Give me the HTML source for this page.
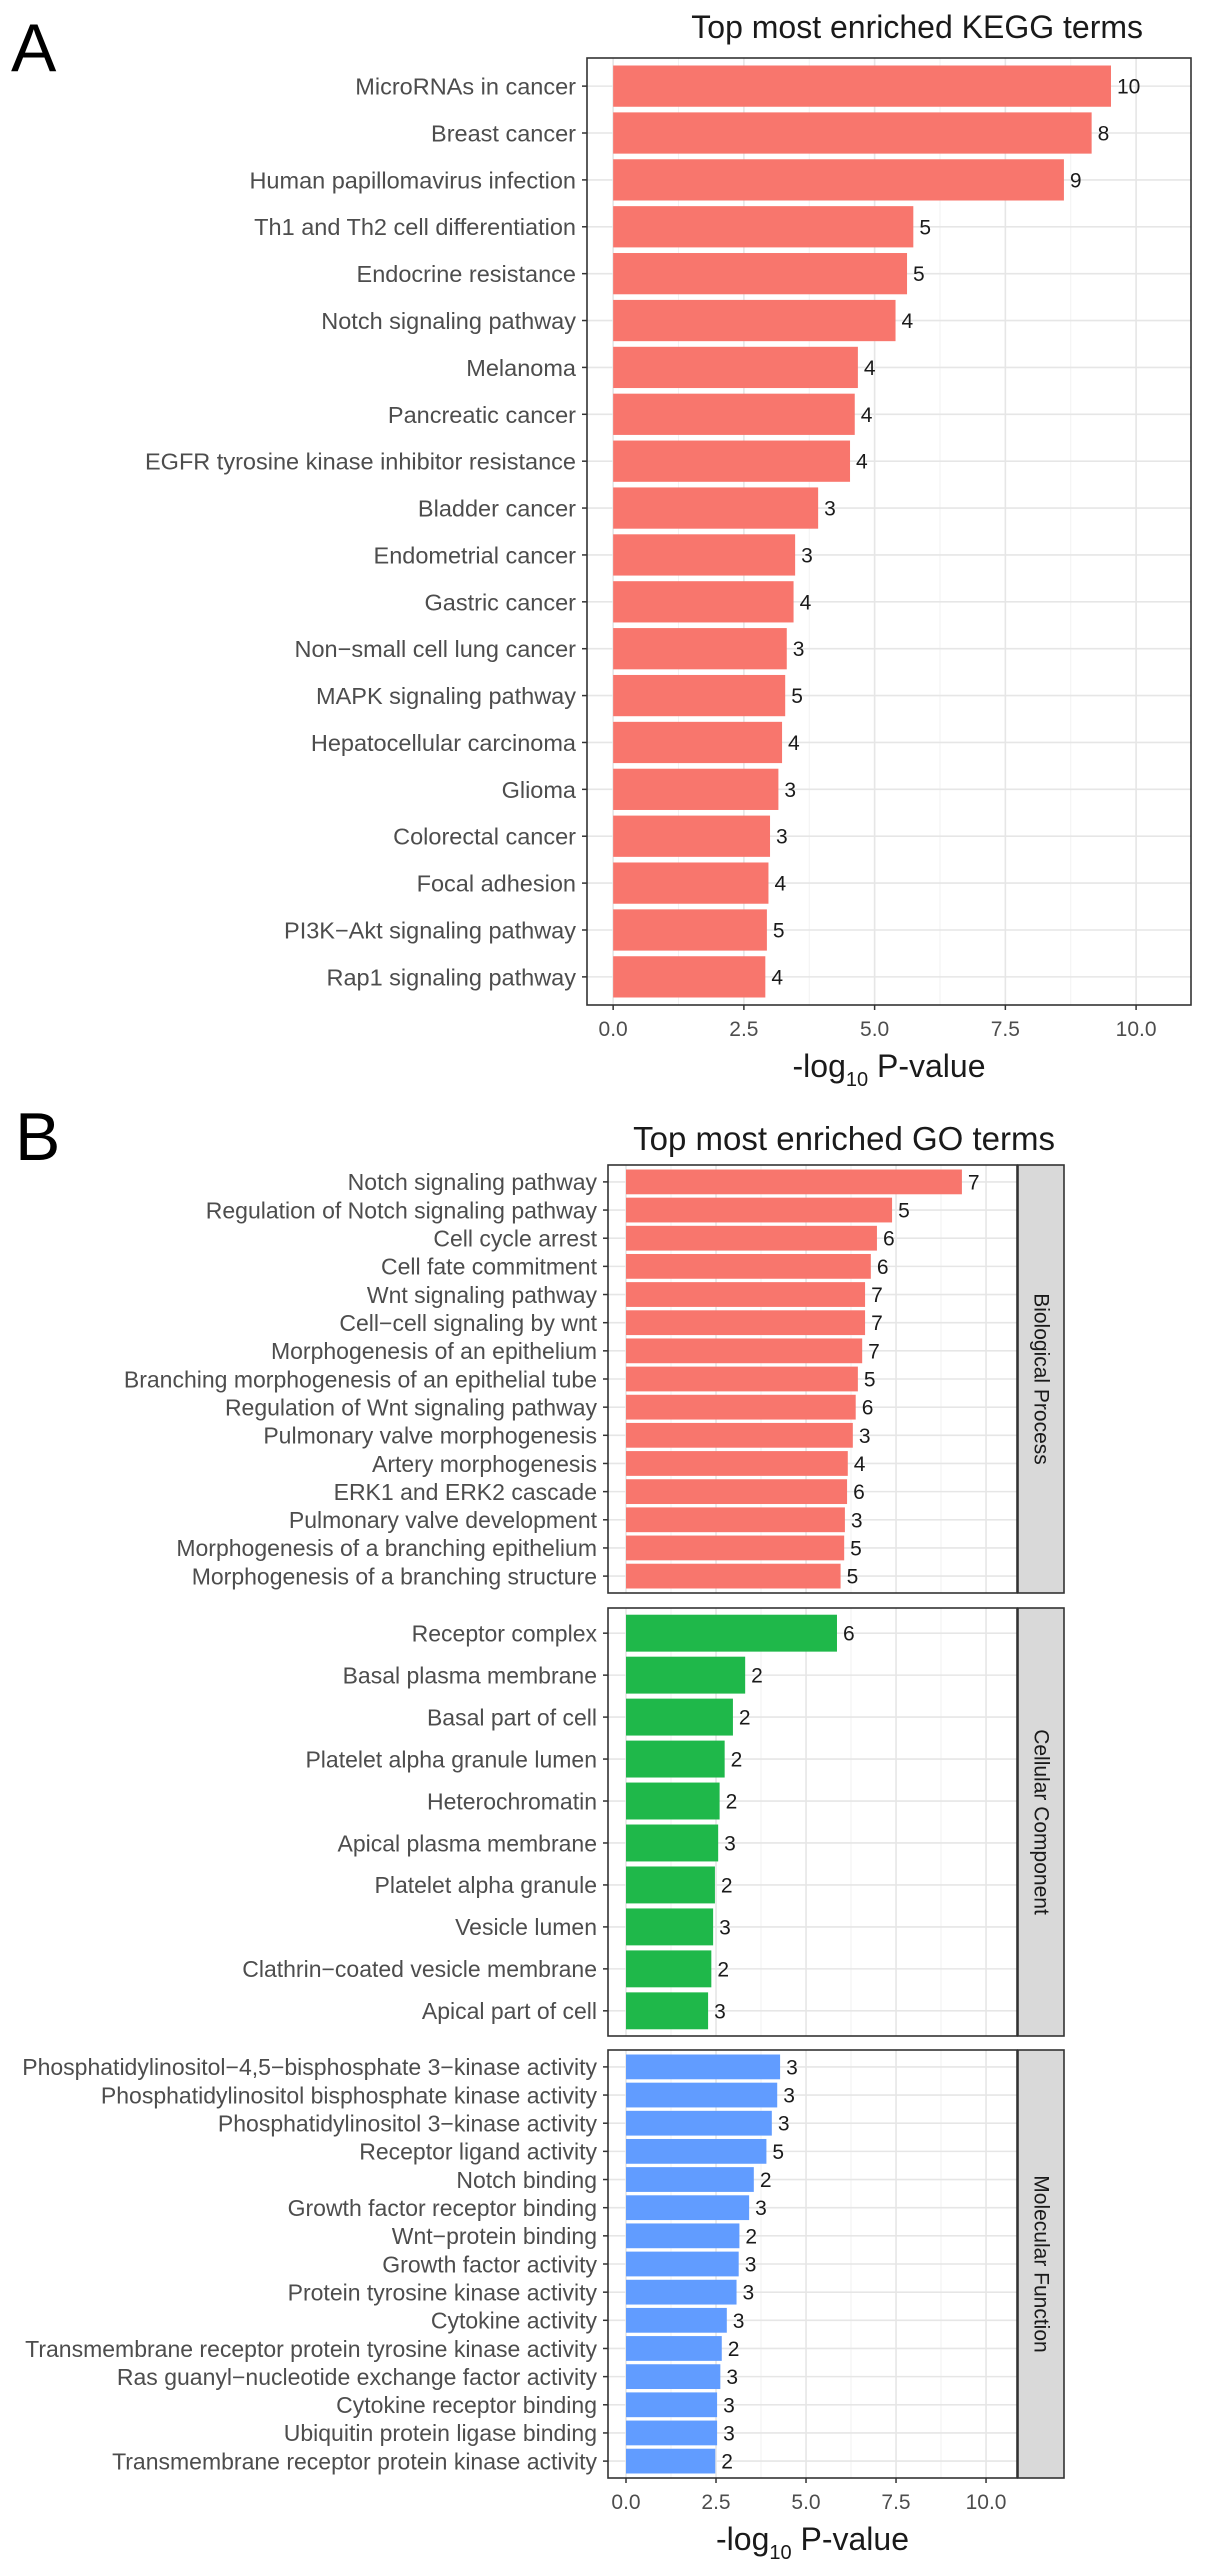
<!DOCTYPE html>
<html><head><meta charset="utf-8"><title>Enrichment charts</title>
<style>
html,body{margin:0;padding:0;background:#fff;}
svg{display:block;font-family:"Liberation Sans",Arial,sans-serif;}
</style></head>
<body>
<svg id="chart" width="1205" height="2575" viewBox="0 0 1205 2575" xmlns="http://www.w3.org/2000/svg"></svg>
<script>
// ---------- Panel A data (KEGG) ----------
const keggTerms = ["MicroRNAs in cancer","Breast cancer","Human papillomavirus infection","Th1 and Th2 cell differentiation","Endocrine resistance","Notch signaling pathway","Melanoma","Pancreatic cancer","EGFR tyrosine kinase inhibitor resistance","Bladder cancer","Endometrial cancer","Gastric cancer","Non\u2212small cell lung cancer","MAPK signaling pathway","Hepatocellular carcinoma","Glioma","Colorectal cancer","Focal adhesion","PI3K\u2212Akt signaling pathway","Rap1 signaling pathway"];
const keggValues = [9.52,9.15,8.62,5.74,5.62,5.40,4.68,4.62,4.53,3.92,3.48,3.45,3.32,3.29,3.23,3.16,3.00,2.97,2.94,2.91];
const keggCounts = [10,8,9,5,5,4,4,4,4,3,3,4,3,5,4,3,3,4,5,4];
const xTickValues = [0,2.5,5,7.5,10];
const xTickLabels = ["0.0","2.5","5.0","7.5","10.0"];

// ---------- Panel B data (GO) ----------
const bpTerms = ["Notch signaling pathway","Regulation of Notch signaling pathway","Cell cycle arrest ","Cell fate commitment ","Wnt signaling pathway","Cell\u2212cell signaling by wnt ","Morphogenesis of an epithelium","Branching morphogenesis of an epithelial tube","Regulation of Wnt signaling pathway","Pulmonary valve morphogenesis","Artery morphogenesis ","ERK1 and ERK2 cascade","Pulmonary valve development ","Morphogenesis of a branching epithelium","Morphogenesis of a branching structure "];
const bpValues = [9.33,7.39,6.97,6.80,6.64,6.64,6.56,6.44,6.38,6.30,6.16,6.14,6.08,6.06,5.96];
const bpCounts = [7,5,6,6,7,7,7,5,6,3,4,6,3,5,5];
const ccTerms = ["Receptor complex","Basal plasma membrane","Basal part of cell ","Platelet alpha granule lumen","Heterochromatin","Apical plasma membrane","Platelet alpha granule","Vesicle lumen","Clathrin\u2212coated vesicle membrane","Apical part of cell"];
const ccValues = [5.86,3.31,2.97,2.74,2.60,2.56,2.47,2.42,2.37,2.28];
const ccCounts = [6,2,2,2,2,3,2,3,2,3];
const mfTerms = ["Phosphatidylinositol\u22124,5\u2212bisphosphate 3\u2212kinase activity","Phosphatidylinositol bisphosphate kinase activity","Phosphatidylinositol 3\u2212kinase activity","Receptor ligand activity ","Notch binding","Growth factor receptor binding","Wnt\u2212protein binding","Growth factor activity","Protein tyrosine kinase activity","Cytokine activity ","Transmembrane receptor protein tyrosine kinase activity","Ras guanyl\u2212nucleotide exchange factor activity","Cytokine receptor binding","Ubiquitin protein ligase binding","Transmembrane receptor protein kinase activity"];
const mfValues = [4.28,4.20,4.05,3.90,3.55,3.42,3.15,3.13,3.07,2.80,2.66,2.62,2.53,2.53,2.48];
const mfCounts = [3,3,3,5,2,3,2,3,3,3,2,3,3,3,2];

const NS = "http://www.w3.org/2000/svg";
const svg = document.getElementById("chart");
function el(tag, attrs, parent, text){
  const e = document.createElementNS(NS, tag);
  for (const k in attrs) e.setAttribute(k, attrs[k]);
  if (text !== undefined) e.textContent = text;
  (parent || svg).appendChild(e);
  return e;
}

function drawPanel(o){
  const g = el("g", {}, svg);
  
  
  const xs = v => o.left + (v - o.xmin) / (o.xmax - o.xmin) * (o.right - o.left);
  const n = o.terms.length;
  const pitch = (o.bottom - o.top) / (n + 0.2);
  const yc = i => o.top + (0.6 + i) * pitch;
  el("rect", {x:o.left, y:o.top, width:o.right-o.left, height:o.bottom-o.top, fill:"#fff"}, g);
  for (let i = 0; i < xTickValues.length; i++){
    const mv = xTickValues[i] + 1.25;
    if (mv < o.xmax) el("line", {x1:xs(mv), x2:xs(mv), y1:o.top, y2:o.bottom, stroke:"#f2f2f2", "stroke-width":1}, g);
  }
  xTickValues.forEach(v => {
    el("line", {x1:xs(v), x2:xs(v), y1:o.top, y2:o.bottom, stroke:"#e6e6e6", "stroke-width":1.6}, g);
  });
  for (let i = 0; i < n; i++){
    el("line", {x1:o.left, x2:o.right, y1:yc(i), y2:yc(i), stroke:"#e6e6e6", "stroke-width":1.6}, g);
  }
  for (let i = 0; i < n; i++){
    const bh = pitch * 0.88;
    const b = el("rect", {x:xs(0), y:yc(i)-bh/2, width:xs(o.values[i])-xs(0), height:bh, fill:o.color}, g);
    
    
    const c = el("text", {x:xs(o.values[i])+6, y:yc(i)+7.5, "font-size":21, fill:"#1a1a1a"}, g, String(o.counts[i]));
    
    
    const t = el("text", {x:o.left-11, y:yc(i)+o.labelSize*0.36, "font-size":o.labelSize, fill:"#4d4d4d", "text-anchor":"end", "xml:space":"preserve"}, g, o.terms[i]);
    
    
    el("line", {x1:o.left-5, x2:o.left, y1:yc(i), y2:yc(i), stroke:"#333", "stroke-width":1.5}, g);
  }
  el("rect", {x:o.left, y:o.top, width:o.right-o.left, height:o.bottom-o.top, fill:"none", stroke:"#333", "stroke-width":1.6}, g);
  if (o.strip){
    const s = el("rect", {x:o.right+1, y:o.top, width:46, height:o.bottom-o.top, fill:"#d9d9d9", stroke:"#333", "stroke-width":1.6}, g);
    
    
    const cx = o.right + 24, cy = (o.top + o.bottom)/2;
    const st = el("text", {x:cx, y:cy, "font-size":21, fill:"#1a1a1a", "text-anchor":"middle", "dominant-baseline":"central", transform:"rotate(90 "+cx+" "+cy+")"}, g, o.strip);
    
    
  }
  if (o.showX){
    xTickValues.forEach((v, i) => {
      el("line", {x1:xs(v), x2:xs(v), y1:o.bottom, y2:o.bottom+5, stroke:"#333", "stroke-width":1.5}, g);
      const tl = el("text", {x:xs(v), y:o.bottom+31, "font-size":21, fill:"#4d4d4d", "text-anchor":"middle"}, g, xTickLabels[i]);
      
      
    });
    const tt = el("text", {x:(o.left+o.right)/2, y:o.bottom+72, "font-size":32, fill:"#1a1a1a", "text-anchor":"middle"}, g);
    
    
    el("tspan", {}, tt, "-log");
    el("tspan", {"font-size":20, dy:9}, tt, "10");
    el("tspan", {dy:-9}, tt, " P-value");
  }
}

let t;
t = el("text", {x:11, y:71, "font-size":68, fill:"#000"}, svg, "A");
 
t = el("text", {x:15, y:1160, "font-size":68, fill:"#000"}, svg, "B");
 
t = el("text", {x:1143, y:38, "font-size":32, fill:"#1a1a1a", "text-anchor":"end"}, svg, "Top most enriched KEGG terms");
 
t = el("text", {x:1055, y:1150, "font-size":33, fill:"#1a1a1a", "text-anchor":"end"}, svg, "Top most enriched GO terms");
 

drawPanel({name:"kegg-panel", left:587, right:1191, top:58, bottom:1005, xmin:-0.5, xmax:11.05,
  terms:keggTerms, values:keggValues, counts:keggCounts, color:"#F8766D", labelSize:23.5, showX:true});
drawPanel({name:"go-bp-panel", left:608, right:1017, top:1165, bottom:1593, xmin:-0.5, xmax:10.86,
  terms:bpTerms, values:bpValues, counts:bpCounts, color:"#F8766D", labelSize:23, showX:false, strip:"Biological Process"});
drawPanel({name:"go-cc-panel", left:608, right:1017, top:1608, bottom:2036, xmin:-0.5, xmax:10.86,
  terms:ccTerms, values:ccValues, counts:ccCounts, color:"#1FB84A", labelSize:23, showX:false, strip:"Cellular Component"});
drawPanel({name:"go-mf-panel", left:608, right:1017, top:2050, bottom:2478, xmin:-0.5, xmax:10.86,
  terms:mfTerms, values:mfValues, counts:mfCounts, color:"#619CFF", labelSize:23, showX:true, strip:"Molecular Function"});
</script>
</body></html>
